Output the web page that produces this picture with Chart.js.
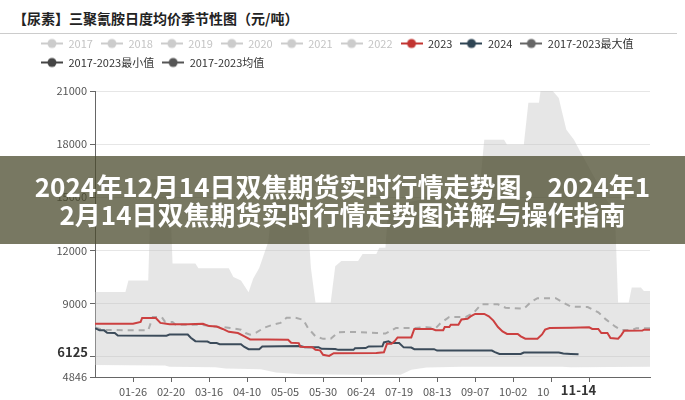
<!DOCTYPE html>
<html lang="zh-CN">
<head>
<meta charset="UTF-8">
<script src="https://cdn.jsdelivr.net/npm/chart.js"></script>
<title>三聚氰胺日度均价季节性图</title>
<style>
    body { margin: 0; width: 685px; height: 400px; position: relative; overflow: hidden; background: #fff; font-family: "Noto Sans CJK SC", sans-serif; }
    #titulo { position: absolute; left: 13px; top: 8px; font-size: 14px; font-weight: bold; color: #222; line-height: 20px; }
    #linha { position: absolute; left: 0; top: 33px; width: 677px; height: 1px; background: #ccc; }
    #grafico { position: absolute; left: 0; top: 30px; }
    #faixa { position: absolute; left: 0; top: 156px; width: 685px; height: 88px; background: rgba(75, 75, 45, 0.75);
             color: #fff; font-weight: bold; font-size: 26px; line-height: 28px; text-align: center;
             display: flex; flex-direction: column; justify-content: center; }
</style>
</head>
<body>
    <div id="titulo">【尿素】三聚氰胺日度均价季节性图（元/吨）</div>
    <div id="linha"></div>
    <canvas id="grafico" width="685" height="370"></canvas>
    <div id="faixa">
        <div>2024年12月14日双焦期货实时行情走势图，2024年1</div>
        <div>2月14日双焦期货实时行情走势图详解与操作指南</div>
    </div>
<script>
    // anos sem seleção na legenda (sem dados visíveis)
    const anosOcultos = ['2017', '2018', '2019', '2020', '2021', '2022'];

    // eixo x: dia do ano (2024, bissexto), 0 = 01-01
    const diasTick = [25, 50, 75, 100, 125, 150, 175, 200, 225, 250, 275, 300, 325];
    const rotulosTick = ['01-26', '02-20', '03-16', '04-10', '05-05', '05-30', '06-24', '07-19', '08-13', '09-07', '10-02', '10-27', '11-21'];
    const diaAtual = 318;
    const rotuloDiaAtual = '11-14';
    const valorAtual = 6125;

    const yTicks = [4846, 6000, 9000, 12000, 15000, 18000, 21000];

    const dias2023 = [0, 25, 30, 31, 40, 43, 49, 61, 71, 75, 80, 84, 88, 94, 98, 102, 113, 127, 129, 134, 135, 143, 145, 148, 150, 154, 157, 185, 190, 192, 195, 197, 199, 208, 210, 222, 224, 229, 230, 233, 234, 239, 241, 245, 247, 250, 256, 259, 262, 265, 268, 271, 278, 280, 283, 291, 294, 296, 299, 313, 325, 327, 331, 333, 337, 339, 344, 346, 348, 360, 361, 365];
    const valores2023 = [7850, 7850, 7960, 8180, 8180, 7900, 7820, 7830, 7850, 7720, 7700, 7560, 7400, 7330, 7150, 6970, 6960, 6950, 6780, 6760, 6560, 6530, 6380, 6350, 6100, 6040, 6190, 6200, 6240, 6720, 6720, 6860, 7080, 7080, 7560, 7560, 7490, 7490, 7670, 7670, 7800, 7800, 8100, 8140, 8270, 8410, 8410, 8270, 8030, 7670, 7420, 7280, 7280, 7140, 7010, 7010, 7250, 7520, 7610, 7630, 7650, 7560, 7560, 7330, 7330, 7050, 7010, 7200, 7460, 7470, 7520, 7520];

    const dias2024 = [0, 3, 6, 8, 13, 15, 47, 49, 61, 63, 66, 74, 76, 80, 82, 96, 98, 101, 108, 110, 135, 138, 147, 149, 158, 160, 170, 171, 178, 180, 189, 190, 193, 195, 200, 203, 208, 210, 223, 225, 261, 263, 266, 280, 282, 305, 308, 313, 318];
    const valores2024 = [7600, 7480, 7480, 7340, 7330, 7190, 7180, 7240, 7240, 7060, 6870, 6850, 6760, 6760, 6700, 6700, 6560, 6420, 6420, 6570, 6600, 6530, 6530, 6440, 6430, 6380, 6380, 6470, 6480, 6570, 6580, 6800, 6860, 6760, 6760, 6520, 6510, 6420, 6420, 6340, 6340, 6250, 6150, 6150, 6230, 6230, 6170, 6150, 6125];

    const diasMax = [0, 20, 22, 35, 37, 49, 51, 66, 68, 88, 91, 96, 101, 104, 108, 110, 114, 117, 139, 142, 145, 155, 158, 162, 173, 176, 185, 187, 191, 193, 253, 256, 269, 271, 282, 285, 292, 293, 301, 305, 307, 310, 315, 319, 342, 344, 351, 353, 359, 361, 365];
    const valoresMax = [9650, 9650, 10300, 10300, 16000, 16000, 11250, 11250, 10990, 10990, 10500, 10300, 9630, 10400, 11000, 11500, 12500, 15000, 15000, 11000, 9050, 9050, 11100, 11400, 11400, 11800, 11800, 12150, 12150, 14500, 15500, 18240, 18240, 17960, 17960, 20330, 20330, 21000, 21000, 20600, 19870, 18810, 18240, 17600, 14000, 9050, 9050, 9900, 9900, 9700, 9700];

    const diasMin = [0, 46, 49, 79, 86, 109, 119, 135, 170, 201, 208, 218, 241, 307, 313, 365];
    const valoresMin = [5530, 5500, 5420, 5400, 5330, 5280, 5100, 5000, 4980, 4980, 5250, 5380, 5430, 5430, 5400, 5420];

    const diasMedia = [0, 6, 35, 38, 44, 46, 51, 53, 69, 76, 89, 96, 99, 102, 106, 111, 117, 122, 126, 132, 137, 140, 145, 150, 155, 160, 170, 185, 191, 195, 198, 211, 218, 224, 227, 233, 244, 249, 254, 265, 270, 282, 287, 291, 303, 308, 313, 324, 331, 336, 342, 346, 353, 356, 365];
    const valoresMedia = [7640, 7500, 7480, 8240, 8220, 7970, 7950, 7800, 7800, 7720, 7620, 7520, 7330, 7240, 7350, 7620, 7800, 7900, 8190, 8190, 8070, 7620, 7140, 7000, 7000, 7380, 7390, 7330, 7300, 7480, 7620, 7620, 7660, 7600, 7870, 8240, 8240, 8470, 8950, 8950, 8760, 8700, 9100, 9300, 9300, 9050, 8820, 8800, 8500, 8100, 7700, 7500, 7500, 7600, 7600];

    function pontos(dias, valores) {
        return dias.map(function (d, i) { return { x: d, y: valores[i] }; });
    }

    // icone da legenda: linha com bolinha no meio
    function icone(cor) {
        const c = document.createElement('canvas');
        c.width = 22;
        c.height = 12;
        const g = c.getContext('2d');
        g.strokeStyle = cor;
        g.lineWidth = 2;
        g.beginPath(); g.moveTo(0, 6); g.lineTo(22, 6); g.stroke();
        g.fillStyle = cor;
        g.beginPath(); g.arc(11, 6, 4.5, 0, Math.PI * 2); g.fill();
        return c;
    }

    const fonte = '"Noto Sans CJK SC", "Noto Sans", sans-serif';
    Chart.defaults.font.family = fonte;

    let datasets = [];
    for (let i = 0; i < anosOcultos.length; i++) {
        datasets.push({ label: anosOcultos[i], data: [], hidden: true, corLegenda: '#ccc', borderColor: '#ccc' });
    }
    datasets.push({ label: '2023', data: pontos(dias2023, valores2023), corLegenda: '#c23531', borderColor: '#cc4040', borderWidth: 2 });
    datasets.push({ label: '2024', data: pontos(dias2024, valores2024), corLegenda: '#2f4554', borderColor: '#3b4b5a', borderWidth: 2 });
    datasets.push({ label: '2017-2023最大值', data: pontos(diasMax, valoresMax), corLegenda: '#666', borderWidth: 0, backgroundColor: 'rgba(195, 195, 195, 0.42)', fill: '+1' });
    datasets.push({ label: '2017-2023最小值', data: pontos(diasMin, valoresMin), corLegenda: '#444', borderWidth: 0 });
    datasets.push({ label: '2017-2023均值', data: pontos(diasMedia, valoresMedia), corLegenda: '#555', borderColor: '#999', borderWidth: 2, borderDash: [6, 5] });

    // abre espaço entre a legenda e a área do gráfico
    const espacoLegenda = {
        id: 'espacoLegenda',
        beforeInit(chart) {
            const fitOriginal = chart.legend.fit;
            chart.legend.fit = function () {
                fitOriginal.bind(chart.legend)();
                this.height += 13;
            };
        }
    };

    // rótulos em destaque: valor atual no eixo y e data atual no eixo x
    const marcadores = {
        id: 'marcadores',
        afterDraw(chart) {
            const ctx = chart.ctx;
            const x = chart.scales.x;
            const y = chart.scales.y;
            ctx.save();
            ctx.font = 'bold 13px ' + fonte;
            ctx.textBaseline = 'middle';

            const py = y.getPixelForValue(valorAtual) - 2;
            ctx.fillStyle = '#fff';
            ctx.fillRect(y.right - 42, py - 9, 36, 18);
            ctx.fillStyle = '#333';
            ctx.textAlign = 'right';
            ctx.fillText(String(valorAtual), y.right - 7, py);

            const px = x.getPixelForValue(diaAtual);
            ctx.fillStyle = '#fff';
            ctx.fillRect(px - 29, x.top + 6, 52, 16);
            ctx.fillStyle = '#333';
            ctx.textAlign = 'center';
            ctx.fillText(rotuloDiaAtual, px, x.top + 13);
            ctx.restore();
        }
    };

    const config = {
        type: 'line',
        data: { datasets: datasets },
        options: {
            responsive: false,
            animation: false,
            devicePixelRatio: 1,
            elements: { point: { radius: 0 }, line: { tension: 0 } },
            layout: { padding: { left: 33, right: 35, top: 0, bottom: 0 } },
            plugins: {
                tooltip: { enabled: false },
                legend: {
                    position: 'top',
                    align: 'start',
                    labels: {
                        usePointStyle: true,
                        pointStyleWidth: 22,
                        padding: 8,
                        font: { size: 11 },
                        generateLabels: function (chart) {
                            return chart.data.datasets.map(function (ds, i) {
                                const ativo = chart.isDatasetVisible(i);
                                return {
                                    text: ds.label,
                                    fillStyle: ds.corLegenda,
                                    strokeStyle: ds.corLegenda,
                                    fontColor: ativo ? '#333' : '#c4c4c4',
                                    pointStyle: icone(ativo ? ds.corLegenda : '#ccc'),
                                    hidden: false,
                                    lineWidth: 0,
                                    datasetIndex: i
                                };
                            });
                        }
                    }
                }
            },
            scales: {
                x: {
                    type: 'linear',
                    min: 0,
                    max: 365,
                    afterBuildTicks: function (s) { s.ticks = diasTick.map(function (v) { return { value: v }; }); },
                    afterFit: function (s) { s.height = 23; },
                    ticks: {
                        autoSkip: false,
                        maxRotation: 0,
                        padding: 3,
                        color: '#555',
                        font: { size: 11 },
                        callback: function (v) {
                            if (Math.abs(v - diaAtual) < 10) return '';
                            return rotulosTick[diasTick.indexOf(v)];
                        }
                    },
                    grid: { drawOnChartArea: false, tickLength: 5, tickColor: '#666' },
                    border: { color: '#666' }
                },
                y: {
                    min: 4846,
                    max: 21000,
                    afterBuildTicks: function (s) { s.ticks = yTicks.map(function (v) { return { value: v }; }); },
                    afterFit: function (s) { s.width = 62; },
                    ticks: {
                        padding: 3,
                        color: '#555',
                        font: { size: 11 },
                        callback: function (v) { return String(v); }
                    },
                    grid: { color: '#e6e6e6', tickLength: 5, tickColor: '#666' },
                    border: { color: '#666' }
                }
            }
        },
        plugins: [espacoLegenda, marcadores]
    };

    let ctx = document.getElementById('grafico').getContext('2d');
    let myChart = new Chart(ctx, config);
</script>
</body>
</html>
